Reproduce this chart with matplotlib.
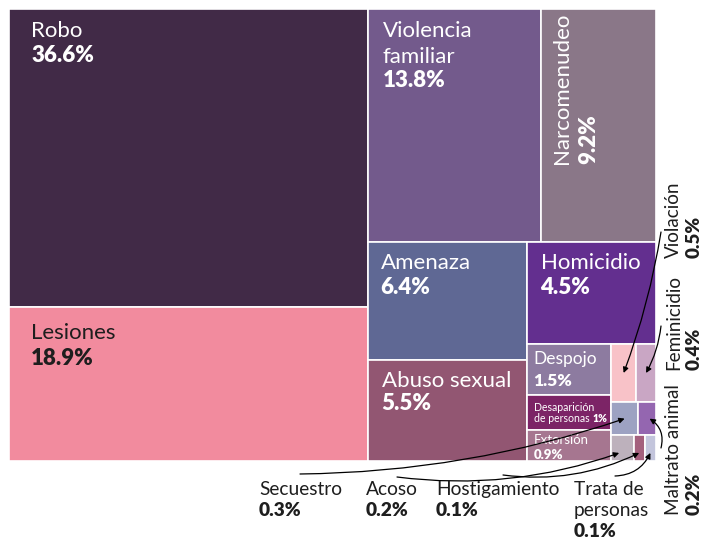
import matplotlib.pyplot as plt
from matplotlib.patches import Rectangle

plt.rcParams['font.family'] = ['Lato', 'DejaVu Sans']

W, H = 701, 540

labels = ["Robo", "Lesiones", "Violencia familiar", "Narcomenudeo", "Amenaza",
          "Abuso sexual", "Homicidio", "Despojo", "Desaparición de personas",
          "Extorsión", "Violación", "Feminicidio", "Secuestro", "Maltrato animal",
          "Acoso", "Hostigamiento", "Trata de personas"]
shares = [36.6, 18.9, 13.8, 9.2, 6.4, 5.5, 4.5, 1.5, 1.0, 0.9,
          0.5, 0.4, 0.3, 0.2, 0.2, 0.1, 0.1]
colors = ["#412a47", "#f28b9e", "#735a8c", "#8a7788", "#5f6894",
          "#925672", "#632f8f", "#8d7ba0", "#7c2466", "#a67690",
          "#f8c2c8", "#c9a6c4", "#9da2c2", "#9466b0", "#bdb1bc",
          "#a4607d", "#c3c5dc"]

# nested groups; split direction alternates x / y per level
groups = [[0, 1],
          [[2, 3],
           [[4, 5],
            [6,
             [[7, 8, 9],
              [[10, 11], [12, 13], [14, 15, 16]]]]]]]

BOLD = 'heavy'
INK = '#1e1e1e'


def total(node):
    if isinstance(node, int):
        return shares[node]
    return sum(total(n) for n in node)


def layout(node, x, y, w, h, depth, out):
    if isinstance(node, int):
        out[node] = (x, y, w, h)
        return
    t = total(node)
    for child in node:
        f = total(child) / t
        if depth % 2 == 0:
            layout(child, x, y, w * f, h, depth + 1, out)
            x += w * f
        else:
            layout(child, x, y, w, h * f, depth + 1, out)
            y += h * f


rects = {}
layout(groups, 0, 0, 1, 1, 0, rects)

fig = plt.figure(figsize=(W / 100, H / 100), dpi=100)
ax = fig.add_axes([9 / W, 1 - 461 / H, 647 / W, 452 / H])
ax.set_xlim(0, 1)
ax.set_ylim(1, 0)
ax.axis('off')

for i, (x, y, w, h) in rects.items():
    ax.add_patch(Rectangle((x, y), w, h, facecolor=colors[i],
                           edgecolor='white', linewidth=1.2))


def pct(i):
    return f"{shares[i]:g}%"


def inside(i, lines, dx, dys, size, color='white', bold_last=True):
    x, y = rects[i][0], rects[i][1]
    out = []
    for k, (txt, dy) in enumerate(zip(lines, dys)):
        bold = bold_last and k == len(lines) - 1
        out.append(ax.annotate(txt, (x, y), xytext=(dx, dy),
                               textcoords='offset pixels', ha='left',
                               va='baseline', fontsize=size, color=color,
                               fontweight=BOLD if bold else 'normal'))
    return out


inside(0, ["Robo", pct(0)], 22, [-28, -53], 16)
inside(1, ["Lesiones", pct(1)], 22, [-32, -58], 16, color=INK)
inside(2, ["Violencia", "familiar", pct(2)], 15, [-28, -54, -78], 16)
inside(4, ["Amenaza", pct(4)], 13, [-27, -52], 16)
inside(6, ["Homicidio", pct(6)], 14, [-27, -52], 16)
inside(5, ["Abuso sexual", pct(5)], 14, [-27, -50], 16)
inside(7, ["Despojo", pct(7)], 7, [-20, -42], 12.5)
desap = inside(8, ["Desaparición", "de personas"], 7, [-16, -27], 7.6,
               bold_last=False)
inside(9, ["Extorsión", pct(9)], 7, [-14, -29], 9.5)

# "1%" right after "de personas"
ax.annotate(pct(8), (1, 0), xycoords=desap[1], xytext=(3, 0),
            textcoords='offset pixels', ha='left', va='bottom',
            fontsize=7.6, color='white', fontweight=BOLD)

# Narcomenudeo, rotated
x3, y3, w3, h3 = rects[3]
ax.annotate("Narcomenudeo", (x3, y3), xytext=(27, -155), textcoords='offset pixels',
            rotation=90, rotation_mode='anchor', ha='left', va='baseline',
            fontsize=16, color='white')
ax.annotate(pct(3), (x3, y3), xytext=(55, -155), textcoords='offset pixels',
            rotation=90, rotation_mode='anchor', ha='left', va='baseline',
            fontsize=16, color='white', fontweight=BOLD)


def side(i, y, size=13.6):
    fig.text(679 / W, 1 - y / H, labels[i], rotation=90, rotation_mode='anchor',
             ha='left', va='baseline', fontsize=size, color=INK)
    fig.text(699.5 / W, 1 - y / H, pct(i), rotation=90, rotation_mode='anchor',
             ha='left', va='baseline', fontsize=size, color=INK, fontweight=BOLD)


side(10, 258)
side(11, 370)
side(13, 515)


def below(i, lines, x, y0, size=13.8):
    for k, txt in enumerate(lines):
        fig.text(x / W, 1 - (y0 + 21 * k) / H, txt, ha='left', va='baseline',
                 fontsize=size, color=INK)
    fig.text(x / W, 1 - (y0 + 21 * len(lines)) / H, pct(i), ha='left',
             va='baseline', fontsize=size, color=INK, fontweight=BOLD)


below(12, ["Secuestro"], 259, 495)
below(14, ["Acoso"], 366, 495)
below(15, ["Hostigamiento"], 436, 495)
below(16, ["Trata de", "personas"], 574, 495)


def arrow(i, sx, sy, rad, dx=0.0, dy=0.0):
    x, y, w, h = rects[i]
    ax.annotate("", (x + w / 2 + dx, y + h / 2 + dy), xytext=(sx, H - sy),
                textcoords='figure pixels',
                arrowprops=dict(arrowstyle='-|>', color='black', lw=0.9,
                                mutation_scale=8, shrinkA=0, shrinkB=0,
                                connectionstyle=f'arc3,rad={rad}'))


arrow(10, 661, 232, -0.05)
arrow(11, 661, 326, -0.1)
arrow(13, 661, 448, 0.35, dx=0.004)
arrow(12, 300, 474, 0.08)
arrow(14, 397, 477, 0.12, dx=-0.005, dy=0.011)
arrow(15, 503, 475, 0.15, dy=0.011)
arrow(16, 615, 476, 0.3, dy=0.011)

fig.savefig("out.png", dpi=100)
